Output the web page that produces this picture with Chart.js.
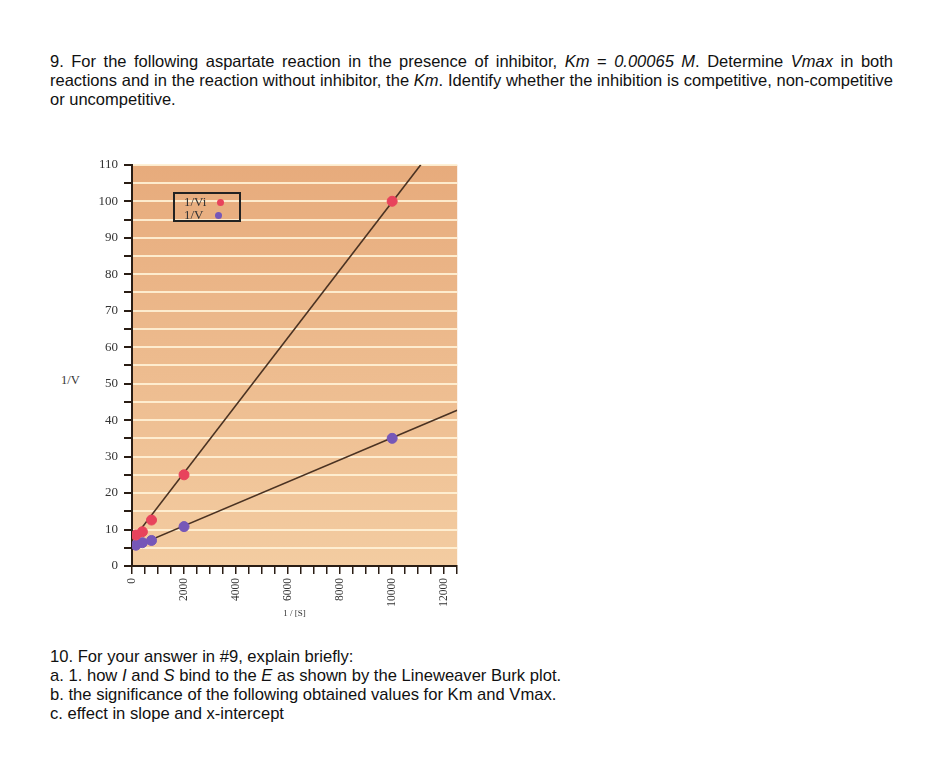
<!DOCTYPE html>
<html>
<head>
<meta charset="utf-8">
<script src="https://cdn.jsdelivr.net/npm/chart.js@4"></script>
<style>
  body { margin: 0; background: #fff; width: 948px; height: 759px; position: relative; overflow: hidden;
         font-family: "Liberation Sans", Arial, sans-serif; color: #111; }
  .para { position: absolute; left: 50px; width: 843px; font-size: 16.6px; line-height: 19px; }
  .top { font-size: 16.5px; }
  .j { text-align: justify; text-align-last: justify; white-space: nowrap; }
  #wrap { position: absolute; left: 82px; top: 151px; width: 393px; height: 470px; }
  #ytitle { position: absolute; left: 61px; top: 373px; font: 12.5px "Liberation Serif", serif; color: #333; }
  #legend { position: absolute; left: 173px; top: 192px; width: 68px; height: 30px; border: 2px solid #222;
            box-sizing: border-box; font: 13px "Liberation Serif", serif; color: #333; padding: 1px 0 0 9px; line-height: 13px; }
  #legend span.dot { display: inline-block; width: 7px; height: 7px; border-radius: 50%; margin-left: 11px; vertical-align: 0px; }
</style>
</head>
<body>
<div class="para top" style="top:52px">
  <div class="j">9. For the following aspartate reaction in the presence of inhibitor, <i>Km</i> = <i>0.00065 M</i>. Determine <i>Vmax</i> in both</div>
  <div class="j">reactions and in the reaction without inhibitor, the <i>Km</i>. Identify whether the inhibition is competitive, non-competitive</div>
  <div>or uncompetitive.</div>
</div>

<div id="wrap"><canvas id="chart"></canvas></div>
<div id="ytitle">1/V</div>
<div id="legend"></div>

<div class="para" style="top:647px">
  <div>10. For your answer in #9, explain briefly:</div>
  <div>a. 1. how <i>I</i> and <i>S</i> bind to the <i>E</i> as shown by the Lineweaver Burk plot.</div>
  <div>b. the significance of the following obtained values for Km and Vmax.</div>
  <div>c. effect in slope and x-intercept</div>
</div>

<script>
// 1/[S] values
const invS = [150, 400, 750, 2000, 10000]
// 1/Vi (with inhibitor) and 1/V (without)
const invVi = [8.5, 9.4, 12.6, 25, 100]
const invV = [5.7, 6.4, 7, 10.8, 35]
// drawn straight lines (end points)
const lineViX = [0, 11100]
const lineViY = [7, 110]
const lineVX = [0, 12500]
const lineVY = [5, 42.7]

const seriesLabels = ['1/Vi', '1/V']
const seriesColors = ['#e8435c', '#7657b8']

function pts(xs, ys) {
  return xs.map((x, i) => ({ x: x, y: ys[i] }))
}

// orange plot background
const bgPlugin = {
  id: 'bg',
  beforeDraw(chart) {
    const { ctx, chartArea: a } = chart
    const g = ctx.createLinearGradient(0, a.top, 0, a.bottom)
    g.addColorStop(0, '#e7ab7c')
    g.addColorStop(1, '#f3cca1')
    ctx.save()
    ctx.fillStyle = g
    ctx.fillRect(a.left, a.top, a.right - a.left, a.bottom - a.top)
    ctx.restore()
  }
}

// legend box built from the series labels
document.querySelector('#legend').innerHTML = seriesLabels.map((l, i) =>
  '<div>' + l + '<span class="dot" style="background:' + seriesColors[i] + '"></span></div>').join('')

new Chart(document.querySelector('#chart').getContext('2d'), {
  type: 'scatter',
  data: {
    datasets: [
      { label: seriesLabels[0], data: pts(invS, invVi), backgroundColor: seriesColors[0], borderColor: seriesColors[0], pointRadius: 5, order: 0 },
      { label: seriesLabels[1], data: pts(invS, invV), backgroundColor: seriesColors[1], borderColor: seriesColors[1], pointRadius: 5, order: 0 },
      { type: 'line', data: pts(lineViX, lineViY), borderColor: '#4a3222', borderWidth: 1.6, pointRadius: 0, order: 1 },
      { type: 'line', data: pts(lineVX, lineVY), borderColor: '#4a3222', borderWidth: 1.6, pointRadius: 0, order: 1 }
    ]
  },
  options: {
    responsive: true,
    maintainAspectRatio: false,
    animation: false,
    layout: { padding: { top: 12, right: 10, bottom: 0, left: 0 } },
    plugins: { legend: { display: false }, tooltip: { enabled: false } },
    scales: {
      x: {
        type: 'linear',
        min: 0,
        max: 12500,
        afterFit: s => { s.height = 55 },
        border: { color: '#2a1d14', width: 2 },
        grid: { drawOnChartArea: false, tickColor: '#2a1d14', tickLength: 8, lineWidth: 1.5 },
        ticks: {
          stepSize: 500, includeBounds: false, autoSkip: false,
          minRotation: 90, maxRotation: 90, padding: 4,
          color: '#333', font: { family: '"Liberation Serif", serif', size: 11.5 },
          callback: v => (Math.round(v) % 2000 === 0 ? String(Math.round(v)) : '')
        },
        title: { display: true, text: '1 / [S]', color: '#333', font: { family: '"Liberation Serif", serif', size: 9 }, padding: { top: 0, bottom: 2 } }
      },
      y: {
        min: 0,
        max: 110,
        afterFit: s => { s.width = 50 },
        border: { color: '#2a1d14', width: 2 },
        grid: { color: 'rgba(255,242,214,0.9)', lineWidth: 2, tickColor: '#2a1d14', tickLength: 8 },
        ticks: {
          stepSize: 5, autoSkip: false, padding: 6, color: '#333',
          font: { family: '"Liberation Serif", serif', size: 13 },
          callback: v => (Math.round(v) % 10 === 0 ? String(Math.round(v)) : '')
        }
      }
    }
  },
  plugins: [bgPlugin]
})
</script>
</body>
</html>
